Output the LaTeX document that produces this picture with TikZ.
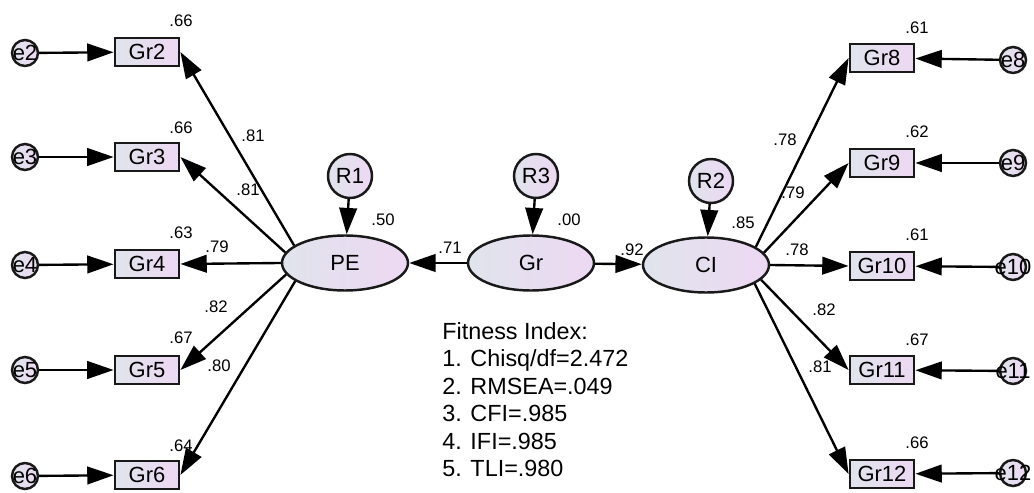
\documentclass[tikz,border=0pt]{standalone}
\usepackage{fontspec}
\setmainfont{Liberation Sans}
\usetikzlibrary{arrows.meta, shapes.geometric}
\definecolor{shadeleft}{RGB}{224,228,236}
\definecolor{shaderight}{RGB}{237,216,243}

\begin{document}
\begin{tikzpicture}[x=0.02cm, y=-0.02cm]

% --- Define reusable styles (the picture is laid out in pixel units) ---
\tikzset{
    item/.style={draw=black!90, line width=1.6pt, left color=shadeleft, right color=shaderight,
        minimum width=1.28cm, minimum height=0.56cm, inner sep=1pt, font=\fontsize{12.5}{14}\selectfont},
    factor/.style={ellipse, draw=black!90, line width=1.4pt, left color=shadeleft, right color=shaderight,
        minimum width=2.52cm, minimum height=1.1cm, inner sep=0pt, font=\fontsize{12.5}{14}\selectfont},
    resid/.style={circle, draw=black!90, line width=1.4pt, left color=shadeleft, right color=shaderight,
        minimum size=0.88cm, inner sep=0pt, font=\fontsize{12.5}{14}\selectfont},
    err/.style={circle, draw=black!90, line width=1.4pt, left color=shadeleft, right color=shaderight,
        minimum size=0.52cm, inner sep=0pt},
    errtext/.style={font=\fontsize{12.5}{14}\selectfont, inner sep=0pt},
    load/.style={-{Triangle[length=15pt, width=10pt]}, line width=1.35pt},
    est/.style={font=\fontsize{9.5}{11}\selectfont, inner sep=0pt}
}
\useasboundingbox (0,0) rectangle (1034,493);

% 1. Latent factors and their residuals
\node[factor] (PE) at (345,263) {PE};
\node[factor] (Gr) at (531,263) {Gr};
\node[factor] (CI) at (706,265) {CI};
\node[resid] (R1) at (350,176) {R1};
\node[resid] (R3) at (536,176) {R3};
\node[resid] (R2) at (711,181) {R2};

% 2. Left indicators with error terms
\node[item] (Gr2) at (147,52) {Gr2};
\node[item] (Gr3) at (147,157) {Gr3};
\node[item] (Gr4) at (147,264) {Gr4};
\node[item] (Gr5) at (147,370) {Gr5};
\node[item] (Gr6) at (147,475) {Gr6};
\node[err, label={[errtext]center:e2}] (e2) at (25,53) {};
\node[err, label={[errtext]center:e3}] (e3) at (25,157) {};
\node[err, label={[errtext]center:e4}] (e4) at (25,265) {};
\node[err, label={[errtext]center:e5}] (e5) at (25,370) {};
\node[err, label={[errtext]center:e6}] (e6) at (25,476) {};

% 3. Right indicators with error terms
\node[item] (Gr8) at (882,58) {Gr8};
\node[item] (Gr9) at (882,163) {Gr9};
\node[item] (Gr10) at (882,266) {Gr10};
\node[item] (Gr11) at (882,370) {Gr11};
\node[item] (Gr12) at (882,474) {Gr12};
\node[err, label={[errtext]center:e8}] (e8) at (1013,60) {};
\node[err, label={[errtext]center:e9}] (e9) at (1013,163) {};
\node[err, label={[errtext]center:e10}] (e10) at (1013,267) {};
\node[err, label={[errtext]center:e11}] (e11) at (1013,371) {};
\node[err, label={[errtext]center:e12}] (e12) at (1013,473) {};

% 4. Structural paths
\draw[load] (R1) -- (PE);
\draw[load] (R3) -- (Gr);
\draw[load] (R2) -- (CI);
\draw[load] (Gr) -- (PE);
\draw[load] (Gr) -- (CI);

% 5. Loadings and error paths, left side
\draw[load] (PE.161) -- (Gr2.east);
\draw[load] (PE.170) -- (Gr3.east);
\draw[load] (PE.west) -- (Gr4.east);
\draw[load] (PE.191) -- (Gr5.east);
\draw[load] (PE.200) -- (Gr6.east);
\draw[load] (e2) -- (Gr2);
\draw[load] (e3) -- (Gr3);
\draw[load] (e4) -- (Gr4);
\draw[load] (e5) -- (Gr5);
\draw[load] (e6) -- (Gr6);

% 6. Loadings and error paths, right side
\draw[load] (CI.20) -- (Gr8.west);
\draw[load] (CI.12) -- (Gr9.west);
\draw[load] (CI.east) -- (Gr10.west);
\draw[load] (CI.-15) -- (Gr11.west);
\draw[load] (CI.-21) -- (Gr12.west);
\draw[load] (e8) -- (Gr8);
\draw[load] (e9) -- (Gr9);
\draw[load] (e10) -- (Gr10);
\draw[load] (e11) -- (Gr11);
\draw[load] (e12) -- (Gr12);

% 7. Estimates
\node[est] (sq2) at (181,21) {.66};
\node[est] (sq3) at (181,128) {.66};
\node[est] (sq4) at (181,233) {.63};
\node[est] (sq5) at (181,338) {.67};
\node[est] (sq6) at (181,446) {.64};
\node[est] (ld2) at (253,136) {.81};
\node[est] (ld3) at (248,190) {.81};
\node[est] (ld4) at (217,247) {.79};
\node[est] (ld5) at (216,307) {.82};
\node[est] (ld6) at (219,366) {.80};
\node[est] (sq8) at (917,28) {.61};
\node[est] (sq9) at (917,132) {.62};
\node[est] (sq10) at (917,235) {.61};
\node[est] (sq11) at (917,340) {.67};
\node[est] (sq12) at (917,443) {.66};
\node[est] (ld8) at (785,140) {.78};
\node[est] (ld9) at (793,193) {.79};
\node[est] (ld10) at (797,250) {.78};
\node[est] (ld11) at (824,310) {.82};
\node[est] (ld12) at (820,367) {.81};
\node[est] (sqPE) at (383,220) {.50};
\node[est] (sqGr) at (569,220) {.00};
\node[est] (sqCI) at (743,223) {.85};
\node[est] (bPE) at (450,248) {.71};
\node[est] (bCI) at (632,250) {.92};

% 8. Fit summary
\node[anchor=north west, align=left, inner sep=0pt, font=\fontsize{13.3}{15.65}\selectfont] (fit) at (442,322)
    {Fitness Index:\\1. Chisq/df=2.472\\2. RMSEA=.049\\3. CFI=.985\\4. IFI=.985\\5. TLI=.980};

\end{tikzpicture}
\end{document}
